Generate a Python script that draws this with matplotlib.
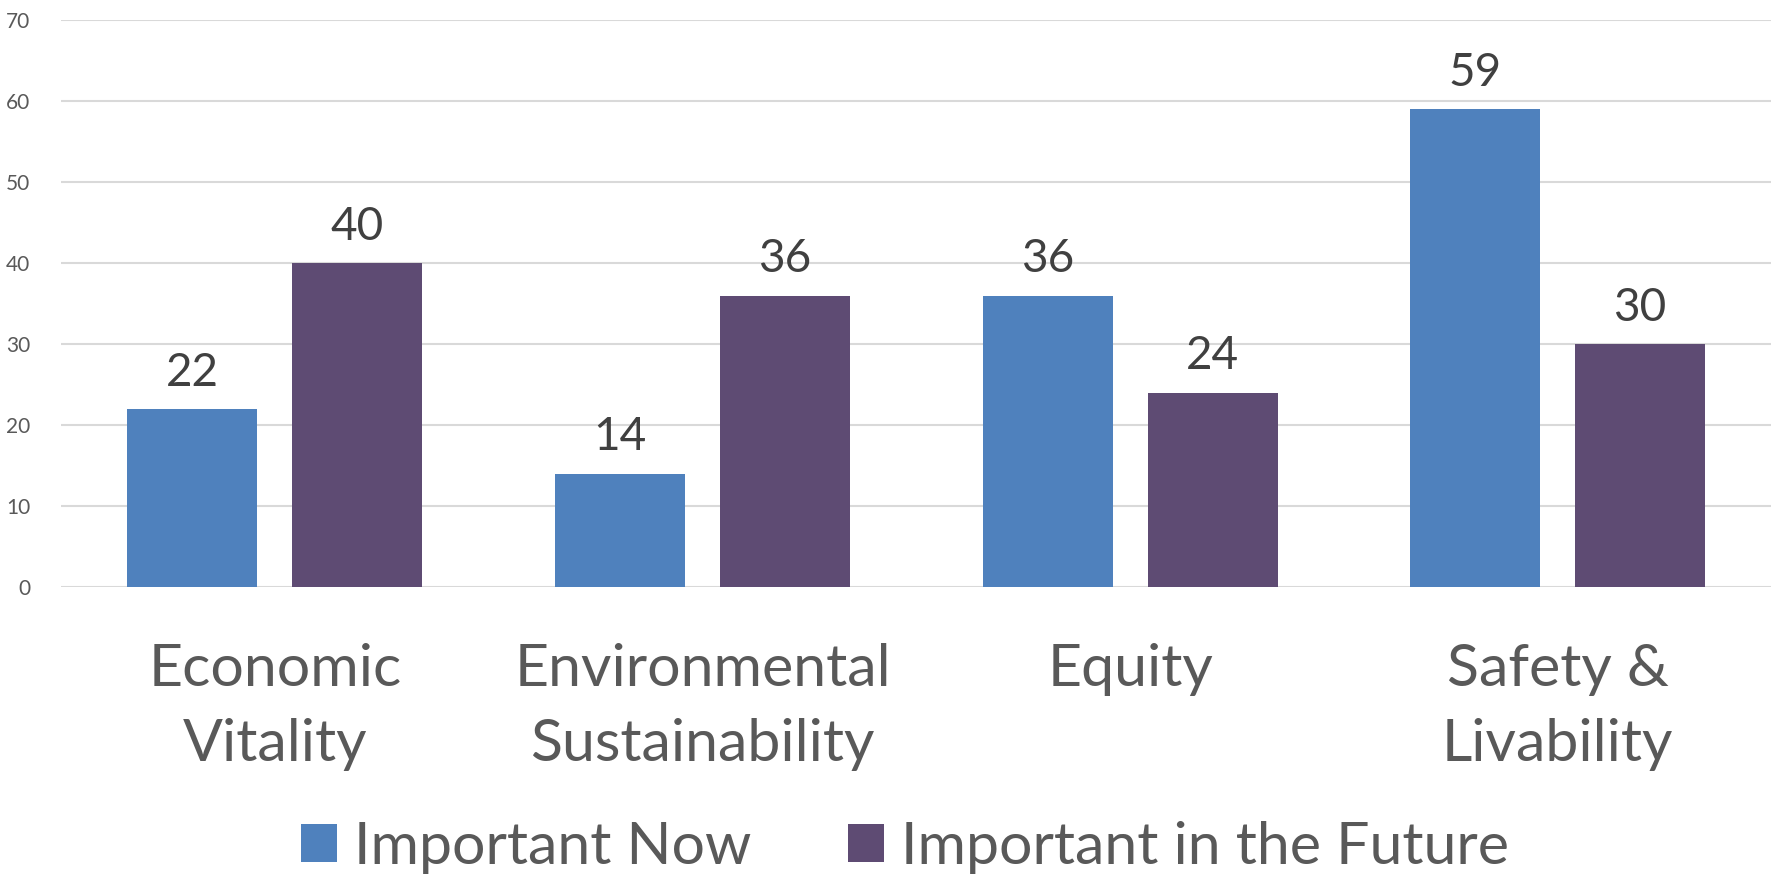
import matplotlib.pyplot as plt
import numpy as np

categories = ["Economic\nVitality", "Environmental\nSustainability", "Equity", "Safety &\nLivability"]
now = [22, 14, 36, 59]
future = [40, 36, 24, 30]
series_names = ["Important Now", "Important in the Future"]

plt.rcParams['font.family'] = ['Lato', 'DejaVu Sans']

fig = plt.figure(figsize=(17.75, 8.75), dpi=100)
ax = fig.add_axes([0.0344, 0.329, 0.9636, 0.648])

x = np.arange(len(categories))
w = 0.304
off = 0.193
b1 = ax.bar(x - off, now, w, color="#4F81BD", label=series_names[0], zorder=3)
b2 = ax.bar(x + off, future, w, color="#5E4B73", label=series_names[1], zorder=3)

for bars in (b1, b2):
    for rect in bars:
        h = rect.get_height()
        ax.annotate(f"{h:.0f}", (rect.get_x() + rect.get_width() / 2, h),
                    xytext=(0, 11), textcoords="offset points",
                    ha="center", va="bottom", fontsize=33, color="#404040")

ax.set_xlim(-0.5, 3.5)
ax.set_ylim(0, 70)
ax.set_yticks(range(0, 71, 10))
ax.set_xticks(x)
ax.set_xticklabels(categories, fontsize=42.5, color="#595959", linespacing=1.52)
ax.tick_params(axis="y", labelsize=15, colors="#595959", length=0, pad=22)
ax.tick_params(axis="x", length=0, pad=40)
ax.grid(axis="y", color="#D9D9D9", linewidth=1.5, zorder=0)
for s in ax.spines.values():
    s.set_visible(False)

fig.legend(handles=[b1, b2], loc="center", bbox_to_anchor=(0.51, 0.032), ncol=2,
           frameon=False, fontsize=42.5, labelcolor="#595959",
           handlelength=0.61, handleheight=0.61, handletextpad=0.29, columnspacing=1.63,
           borderaxespad=0, borderpad=0)

plt.savefig("out.png")
